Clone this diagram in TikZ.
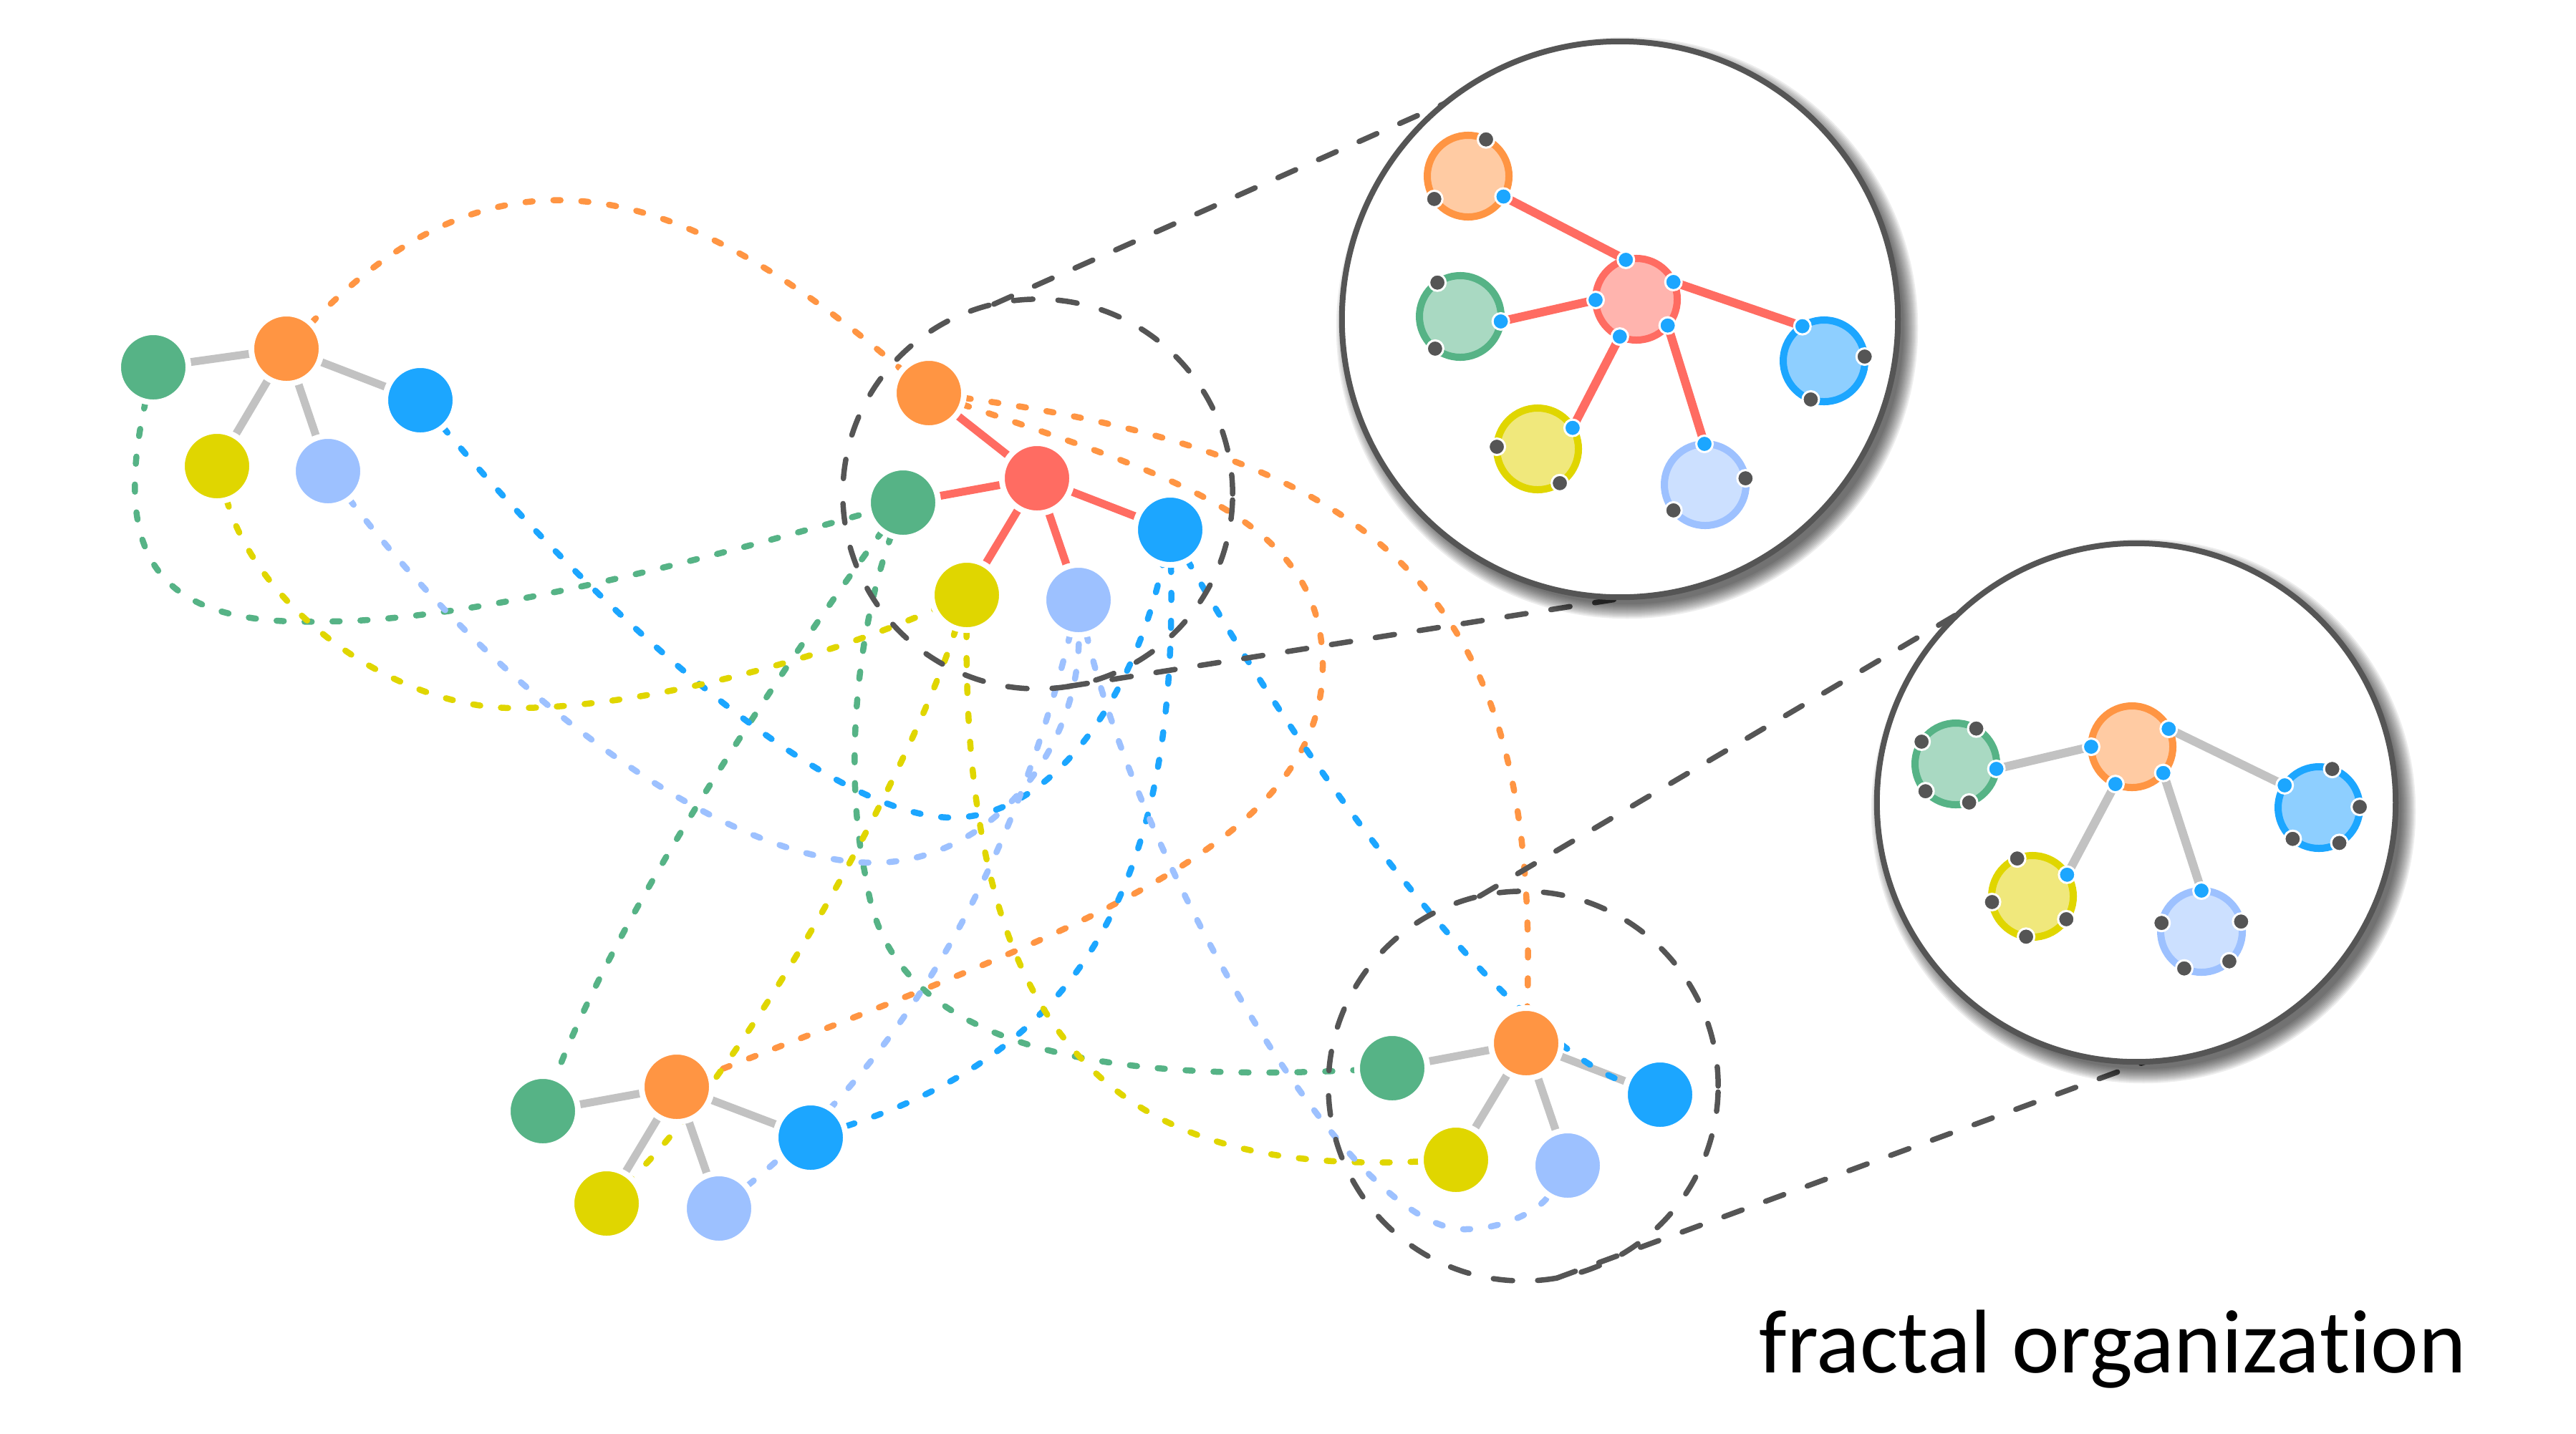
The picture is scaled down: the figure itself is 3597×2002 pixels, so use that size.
\documentclass[tikz,border=0pt]{standalone}
\usepackage{fontspec}
\usepackage{graphicx}
\newfontfamily\labelfont[Ligatures={NoCommon,NoContextual}]{Carlito}
\usetikzlibrary{calc}
\definecolor{cOrange}{HTML}{FF9543}
\definecolor{cGreen}{HTML}{56B386}
\definecolor{cBlue}{HTML}{1CA6FF}
\definecolor{cYellow}{HTML}{E0D600}
\definecolor{cLBlue}{HTML}{9DC1FF}
\definecolor{cRed}{HTML}{FF6C62}
\definecolor{cGray}{HTML}{C2C2C2}
\definecolor{cDark}{HTML}{555555}
\definecolor{fOrange}{HTML}{FFCBA3}
\definecolor{fGreen}{HTML}{A9D9C2}
\definecolor{fBlue}{HTML}{8ECFFF}
\definecolor{fYellow}{HTML}{F0E87C}
\definecolor{fLBlue}{HTML}{CCE0FF}
\definecolor{fRed}{HTML}{FFB4AE}
\pgfdeclarelayer{bg}
\pgfsetlayers{bg,main}
\begin{document}
\begin{tikzpicture}[x=0.01cm,y=-0.01cm,
  gnode/.style={circle, draw=white, line width=0.08cm, minimum size=0.98cm, inner sep=0pt, outer sep=0pt},
  cdash/.style={line width=0.085cm, line cap=round, dash pattern=on 0.1cm off 0.29cm},
  sedge/.style={line width=0.11cm},
  gdash/.style={draw=cDark, line width=0.075cm, line cap=round, dash pattern=on 0.27cm off 0.35cm},
  zoomc/.style={circle, gdash, minimum size=5.44cm, inner sep=0pt, outer sep=0pt},
  bigc/.style={circle, draw=cDark, fill=white, line width=0.08cm, inner sep=0pt, outer sep=0pt},
  ring/.style={circle, line width=0.10cm, minimum size=1.14cm, inner sep=0pt, outer sep=0pt},
  port/.style={circle, draw=white, line width=0.03cm, minimum size=0.23cm, inner sep=0pt, outer sep=0pt},
  iedge/.style={line width=0.12cm},
]
\useasboundingbox (0,0) rectangle (3597,2002);

% ---------- dashed zoom circles ----------
\node[zoomc] (A) at (1449,690) {};
\node[zoomc] (A2) at (2127,1517) {};

% ---------- clusters ----------
% left cluster
\node[gnode, fill=cGreen]  (Lg) at (214,513) {};
\node[gnode, fill=cOrange] (Lo) at (400,487) {};
\node[gnode, fill=cBlue]   (Lb) at (587,559) {};
\node[gnode, fill=cYellow] (Ly) at (303,651) {};
\node[gnode, fill=cLBlue]  (Ll) at (458,658) {};
% main cluster
\node[gnode, fill=cOrange] (Mo) at (1297,549) {};
\node[gnode, fill=cRed]    (Mr) at (1448,668) {};
\node[gnode, fill=cGreen]  (Mg) at (1261,702) {};
\node[gnode, fill=cBlue]   (Mb) at (1634,740) {};
\node[gnode, fill=cYellow] (My) at (1350,831) {};
\node[gnode, fill=cLBlue]  (Ml) at (1506,838) {};
% bottom-left cluster
\node[gnode, fill=cGreen]  (Bg) at (758,1552) {};
\node[gnode, fill=cOrange] (Bo) at (945,1518) {};
\node[gnode, fill=cBlue]   (Bb) at (1132,1589) {};
\node[gnode, fill=cYellow] (By) at (847,1681) {};
\node[gnode, fill=cLBlue]  (Bl) at (1004,1688) {};
% bottom-right cluster
\node[gnode, fill=cGreen]  (Rg) at (1944,1492) {};
\node[gnode, fill=cOrange] (Ro) at (2131,1457) {};
\node[gnode, fill=cBlue]   (Rb) at (2318,1529) {};
\node[gnode, fill=cYellow] (Ry) at (2033,1620) {};
\node[gnode, fill=cLBlue]  (Rl) at (2189,1628) {};

\begin{pgfonlayer}{bg}
% solid edges
\foreach \s in {Mo,Mg,Mb,My,Ml} \draw[sedge, cRed] (Mr) -- (\s);
\foreach \s in {Lg,Lb,Ly,Ll} \draw[sedge, cGray] (Lo) -- (\s);
\foreach \s in {Bg,Bb,By,Bl} \draw[sedge, cGray] (Bo) -- (\s);
\foreach \s in {Rg,Rb,Ry,Rl} \draw[sedge, cGray] (Ro) -- (\s);
% orange
\draw[cdash, cOrange] (Lo) .. controls (696,181) and (949,250) .. (Mo);
\draw[cdash, cOrange] (Mo) .. controls (1954,640) and (2150,850) .. (Ro);
\draw[cdash, cOrange] (Mo) .. controls (1654,670) and (1847,730) .. (1847,930)
   .. controls (1847,1180) and (1500,1300) .. (Bo);
% green
\draw[cdash, cGreen] (Lg) .. controls (150,800) and (240,875) .. (457,868)
   .. controls (650,868) and (965,787) .. (Mg);
\draw[cdash, cGreen] (Mg) .. controls (1080,950) and (860,1280) .. (Bg);
\draw[cdash, cGreen] (Mg) .. controls (1190,900) and (1180,1100) .. (1210,1230)
   .. controls (1240,1450) and (1500,1515) .. (Rg);
% blue
\draw[cdash, cBlue] (Lb) .. controls (822,840) and (1150,1142) .. (1330,1142)
   .. controls (1460,1142) and (1580,990) .. (Mb);
\draw[cdash, cBlue] (Mb) .. controls (1645,1250) and (1500,1470) .. (Bb);
\draw[cdash, cBlue] (Mb) .. controls (1850,1120) and (2120,1460) .. (Rb);
% yellow
\draw[cdash, cYellow] (Ly) .. controls (360,850) and (550,989) .. (718,989)
   .. controls (900,989) and (1150,920) .. (My);
\draw[cdash, cYellow] (My) .. controls (1270,1080) and (1050,1480) .. (By);
\draw[cdash, cYellow] (My) .. controls (1345,1500) and (1600,1640) .. (Ry);
% light blue
\draw[cdash, cLBlue] (Ll) .. controls (680,950) and (1000,1205) .. (1220,1205)
   .. controls (1380,1205) and (1508,1050) .. (Ml);
\draw[cdash, cLBlue] (Ml) .. controls (1430,1150) and (1300,1450) .. (Bl);
\draw[cdash, cLBlue] (Ml) .. controls (1590,1200) and (1880,1717) .. (2045,1717)
   .. controls (2100,1717) and (2150,1690) .. (Rl);
\end{pgfonlayer}

% ---------- top inset ----------
\coordinate (Tc) at (2262,446);
\foreach \k in {0,...,10}
  \fill[black, opacity=0.07] ([shift={(0.10cm,-0.12cm)}]Tc) circle[radius=3.92cm+0.14cm-\k*0.02cm];
\node[bigc, minimum size=7.76cm] (T) at (Tc) {};
\begin{pgfonlayer}{bg}
\draw[gdash] (A.103) -- (T.129);
\draw[gdash] (A.-81) -- (T.-88);
\end{pgfonlayer}
\node[ring, draw=cOrange, fill=fOrange] (To) at (2050,246) {};
\node[ring, draw=cRed,    fill=fRed]    (Th) at (2285,418) {};
\node[ring, draw=cGreen,  fill=fGreen]  (Tg) at (2039,442) {};
\node[ring, draw=cBlue,   fill=fBlue]   (Tb) at (2547,504) {};
\node[ring, draw=cYellow, fill=fYellow] (Ty) at (2147,627) {};
\node[ring, draw=cLBlue,  fill=fLBlue]  (Tl) at (2381,677) {};
\draw[iedge, cRed] (To.-30) -- (Th.105);
\draw[iedge, cRed] (Tg.-7) -- (Th.181);
\draw[iedge, cRed] (Tb.122) -- (Th.25);
\draw[iedge, cRed] (Ty.31) -- (Th.246);
\draw[iedge, cRed] (Tl.91) -- (Th.-40);
\foreach \a [count=\i] in {64,214} \node[port, fill=cDark] (To-d\i) at (To.\a) {};
\foreach \a [count=\i] in {-30} \node[port, fill=cBlue] (To-b\i) at (To.\a) {};
\foreach \a [count=\i] in {105,25,181,-40,246} \node[port, fill=cBlue] (Th-b\i) at (Th.\a) {};
\foreach \a [count=\i] in {124,232} \node[port, fill=cDark] (Tg-d\i) at (Tg.\a) {};
\foreach \a [count=\i] in {-7} \node[port, fill=cBlue] (Tg-b\i) at (Tg.\a) {};
\foreach \a [count=\i] in {6,251} \node[port, fill=cDark] (Tb-d\i) at (Tb.\a) {};
\foreach \a [count=\i] in {122} \node[port, fill=cBlue] (Tb-b\i) at (Tb.\a) {};
\foreach \a [count=\i] in {177,-57} \node[port, fill=cDark] (Ty-d\i) at (Ty.\a) {};
\foreach \a [count=\i] in {31} \node[port, fill=cBlue] (Ty-b\i) at (Ty.\a) {};
\foreach \a [count=\i] in {9,219} \node[port, fill=cDark] (Tl-d\i) at (Tl.\a) {};
\foreach \a [count=\i] in {91} \node[port, fill=cBlue] (Tl-b\i) at (Tl.\a) {};

% ---------- bottom inset ----------
\coordinate (Uc) at (2983,1121);
\foreach \k in {0,...,10}
  \fill[black, opacity=0.07] ([shift={(0.10cm,-0.12cm)}]Uc) circle[radius=3.66cm+0.14cm-\k*0.02cm];
\node[bigc, minimum size=7.24cm] (U) at (Uc) {};
\begin{pgfonlayer}{bg}
\draw[gdash] (A2.103) -- (U.133);
\draw[gdash] (A2.-80) -- (U.-88);
\end{pgfonlayer}
\node[ring, draw=cOrange, fill=fOrange] (Uo) at (2977,1043) {};
\node[ring, draw=cGreen,  fill=fGreen]  (Ug) at (2731,1067) {};
\node[ring, draw=cBlue,   fill=fBlue]   (Ub) at (3238,1128) {};
\node[ring, draw=cYellow, fill=fYellow] (Uy) at (2838,1252) {};
\node[ring, draw=cLBlue,  fill=fLBlue]  (Ul) at (3074,1301) {};
\draw[iedge, cGray] (Uo.180) -- (Ug.-7);
\draw[iedge, cGray] (Uo.26) -- (Ub.147);
\draw[iedge, cGray] (Uo.246) -- (Uy.32);
\draw[iedge, cGray] (Uo.-40) -- (Ul.90);
\foreach \a [count=\i] in {180,26,246,-40} \node[port, fill=cBlue] (Uo-b\i) at (Uo.\a) {};
\foreach \a [count=\i] in {60,147,222,289} \node[port, fill=cDark] (Ug-d\i) at (Ug.\a) {};
\foreach \a [count=\i] in {-7} \node[port, fill=cBlue] (Ug-b\i) at (Ug.\a) {};
\foreach \a [count=\i] in {71,1,230,-60} \node[port, fill=cDark] (Ub-d\i) at (Ub.\a) {};
\foreach \a [count=\i] in {147} \node[port, fill=cBlue] (Ub-b\i) at (Ub.\a) {};
\foreach \a [count=\i] in {112,188,-34,261} \node[port, fill=cDark] (Uy-d\i) at (Uy.\a) {};
\foreach \a [count=\i] in {32} \node[port, fill=cBlue] (Uy-b\i) at (Uy.\a) {};
\foreach \a [count=\i] in {168,14,245,-47} \node[port, fill=cDark] (Ul-d\i) at (Ul.\a) {};
\foreach \a [count=\i] in {90} \node[port, fill=cBlue] (Ul-b\i) at (Ul.\a) {};

% ---------- title ----------
\node[anchor=base west, inner sep=0pt] (title) at (2456,1917)
  {\resizebox{9.86cm}{!}{\labelfont fractal organiza\kern0pt tion}};
\end{tikzpicture}
\end{document}
